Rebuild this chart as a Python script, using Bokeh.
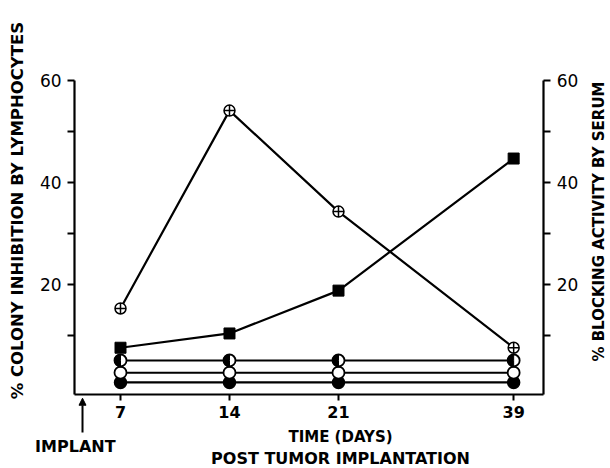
import numpy as np
from bokeh.plotting import figure
from bokeh.models import Range1d, LinearAxis, FixedTicker, CustomJSTickFormatter, Label, Arrow, NormalHead
from bokeh.embed import file_html
from bokeh.resources import INLINE

# ---- data ----
days = [7, 14, 21, 39]
colony_inhibition = [15.3, 54.1, 34.3, 7.6]      # circle-plus (lymphocytes)
blocking_serum = [7.6, 10.4, 18.8, 44.7]          # filled square (serum)
half_circle = [5.1, 5.1, 5.1, 5.1]
open_circle = [2.7, 2.7, 2.7, 2.7]
filled_circle = [0.8, 0.8, 0.8, 0.8]
y_ticks = [10, 20, 30, 40, 50, 60]
y_tick_labels = ["", "20", "", "40", "", "60"]

# broken time axis: compressed after day 21
BREAK = 21
COMPRESS = 0.625
def tpos(d):
    return d if d <= BREAK else BREAK + (d - BREAK) * COMPRESS

xs = [tpos(d) for d in days]

# axis extents (data units)
X0, X1 = 4.05, 34.18
Y0, Y1 = -1.57, 60

p = figure(width=610, height=468, output_backend="svg", toolbar_location=None,
           x_range=Range1d(-0.707, 38.47), y_range=Range1d(-16.08, 75.69),
           min_border=0, background_fill_color="white", border_fill_color="white")
p.outline_line_color = None
p.grid.visible = False
p.xaxis.visible = False
p.yaxis.visible = False

lookup_code = """
    for (let i = 0; i < t.length; i++) { if (Math.abs(t[i] - tick) < 1e-6) return l[i]; }
    return "";
"""
def lookup(t, l):
    return CustomJSTickFormatter(args=dict(t=list(t), l=[str(s) for s in l]), code=lookup_code)

xaxis = LinearAxis(fixed_location=Y0, bounds=(X0, X1), ticker=FixedTicker(ticks=xs),
                   formatter=lookup(xs, days))
p.add_layout(xaxis, "below")
laxis = LinearAxis(fixed_location=X0, bounds=(Y0, Y1), ticker=FixedTicker(ticks=y_ticks),
                   formatter=lookup(y_ticks, y_tick_labels))
raxis = LinearAxis(fixed_location=X1, bounds=(Y0, Y1), ticker=FixedTicker(ticks=y_ticks),
                   formatter=lookup(y_ticks, y_tick_labels))
p.add_layout(laxis, "left")
p.add_layout(raxis, "right")

for ax in [xaxis, laxis, raxis]:
    ax.axis_line_width = 2.2
    ax.axis_line_color = "black"
    ax.major_tick_line_width = 2
    ax.major_tick_line_color = "black"
    ax.major_tick_out = 7
    ax.major_tick_in = 0
    ax.minor_tick_line_color = None
    ax.major_label_text_font = "DejaVu Sans"
    ax.major_label_text_color = "black"
    ax.major_label_standoff = 6
xaxis.major_tick_out = 6
xaxis.major_label_standoff = 5
xaxis.major_label_text_font_style = "bold"
xaxis.major_label_text_font_size = "16px"
for ax in [laxis, raxis]:
    ax.major_label_text_font_size = "17px"

# lines
lw = 2.2
for ys in [filled_circle, open_circle, half_circle, blocking_serum, colony_inhibition]:
    p.line(xs, ys, line_color="black", line_width=lw)

p.scatter(xs, filled_circle, marker="circle", size=12, fill_color="black", line_color="black", line_width=1.5)
p.scatter(xs, open_circle, marker="circle", size=12, fill_color="white", line_color="black", line_width=1.8)
p.scatter(xs, half_circle, marker="circle", size=12, fill_color="white", line_color="black", line_width=1.8)
p.wedge(xs, half_circle, radius=6, radius_units="screen", start_angle=np.pi/2, end_angle=3*np.pi/2,
        fill_color="black", line_color="black")
p.scatter(xs, blocking_serum, marker="square", size=11, fill_color="black", line_color="black")
p.scatter(xs, colony_inhibition, marker="circle_cross", size=11, fill_color="white", line_color="black", line_width=1.5)

# titles and annotations
font = "DejaVu Sans"
def lab(x, y, text, angle=0, size="14px"):
    p.add_layout(Label(x=x, y=y, text=text, angle=angle, text_align="center", text_baseline="middle",
                       text_font=font, text_font_style="bold", text_font_size=size,
                       text_color="black"))

lab(0.385, 34.5, "% COLONY INHIBITION BY LYMPHOCYTES", angle=np.pi/2, size="16.5px")
lab(37.7, 32.35, "% BLOCKING ACTIVITY BY SERUM", angle=np.pi/2, size="15px")
lab(21.13, -10.0, "TIME (DAYS)", size="15px")
lab(21.13, -14.1, "POST TUMOR IMPLANTATION", size="16px")
lab(4.1, -11.85, "IMPLANT", size="16px")
p.add_layout(Arrow(x_start=4.56, y_start=-9.0, x_end=4.56, y_end=-2.3, line_width=2, line_color="black",
                   end=NormalHead(size=7, fill_color="black", line_color="black")))

open("out.html", "w").write(file_html(p, INLINE))
